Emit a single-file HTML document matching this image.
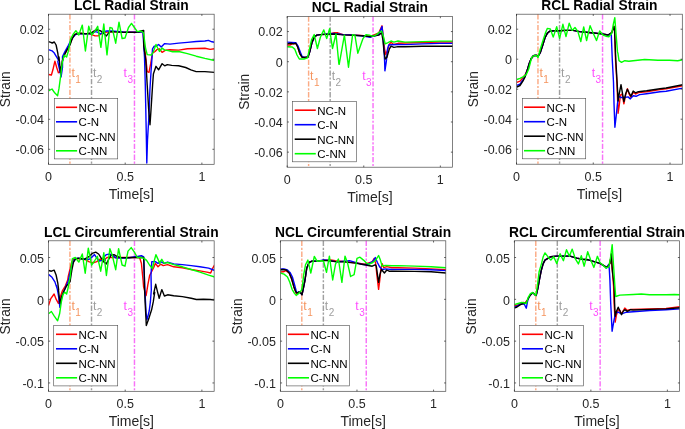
<!DOCTYPE html><html><head><meta charset="utf-8"><style>html,body{margin:0;padding:0;background:#fff;overflow:hidden}body{width:685px;height:429px;position:relative;font-family:"Liberation Sans",sans-serif}</style></head><body><svg width="685" height="429" viewBox="0 0 685 429" style="position:absolute;left:0;top:0;will-change:transform;font-family:'Liberation Sans',sans-serif">
<g id="ax0">
<clipPath id="cp0"><rect x="48.5" y="14.2" width="165.65" height="150.10000000000002"/></clipPath>
<line x1="69.94" y1="14.2" x2="69.94" y2="164.3" stroke="#fbab85" stroke-width="1.45" stroke-dasharray="5.3 1.7 2.1 1.7"/>
<line x1="91.52" y1="14.2" x2="91.52" y2="164.3" stroke="#a0a0a0" stroke-width="1.45" stroke-dasharray="5.3 1.7 2.1 1.7"/>
<line x1="134.47" y1="14.2" x2="134.47" y2="164.3" stroke="#f872f8" stroke-width="1.45" stroke-dasharray="5.3 1.7 2.1 1.7"/>
<g clip-path="url(#cp0)" fill="none" stroke-width="1.4" stroke-linejoin="round">
<polyline points="48.5,74.5 51.4,75.0 52.9,69.8 54.9,61.1 56.7,67.5 58.4,72.7 60.1,72.1 61.3,67.5 62.5,60.5 64.2,55.2 66.6,50.6 70.0,43.8 72.4,38.0 74.7,34.7 77.0,33.7 80.0,33.3 88.7,33.9 91.6,34.7 95.1,35.9 98.0,35.9 100.3,34.5 103.3,32.7 107.0,32.1 111.7,31.6 123.3,32.1 129.1,31.9 141.9,32.1 142.9,32.2 145.5,55.0 147.2,71.6 149.0,72.4 150.7,63.7 152.5,53.2 155.1,51.5 156.8,49.7 159.5,48.8 162.1,52.3 165.6,50.1 170.0,49.7 178.7,50.1 187.4,48.8 196.2,48.5 204.9,48.3 210.1,49.4 214.5,48.8" stroke="#ff0000"/>
<polyline points="48.5,49.6 52.0,50.8 54.3,53.1 56.7,57.2 58.4,60.0 57.8,61.7 59.6,69.8 61.1,76.8 62.5,67.5 62.5,56.6 64.8,51.9 67.7,46.7 70.0,42.0 73.0,37.4 75.3,34.7 77.6,33.9 84.6,33.7 91.6,33.9 95.1,31.6 97.4,32.1 100.3,33.9 103.3,32.7 103.5,31.6 107.0,31.0 111.7,31.0 123.3,31.9 135.0,32.1 143.1,32.1 142.9,32.0 144.5,57.0 145.3,85.0 145.8,110.0 146.3,135.0 146.8,163.0 147.5,140.0 149.0,115.0 149.9,90.0 151.0,72.0 152.0,58.0 152.5,48.8 154.2,46.2 156.0,46.2 158.6,44.5 161.2,47.1 164.7,43.6 170.0,44.1 178.7,43.1 187.4,42.4 196.2,41.5 204.9,41.0 208.4,40.4 211.9,41.8 214.5,42.2" stroke="#0000ff"/>
<polyline points="48.5,41.7 50.8,42.4 52.2,43.0 54.3,42.0 56.1,45.0 57.8,53.1 58.7,60.0 59.0,57.0 59.9,66.3 60.5,72.7 61.3,67.5 62.5,60.5 64.2,55.2 66.6,50.6 70.0,45.0 72.4,38.0 74.7,34.7 77.0,33.7 80.0,33.3 85.8,33.9 91.6,32.7 95.1,30.4 97.4,29.8 100.9,31.0 103.3,33.3 103.5,33.3 106.4,35.9 109.3,32.1 111.7,31.6 115.1,31.9 123.3,32.4 135.0,32.4 138.4,32.1 140.8,31.0 143.7,30.4 143.7,46.0 145.8,60.0 147.2,85.0 148.7,110.0 150.0,124.8 151.0,110.0 152.6,85.0 153.4,74.0 153.9,72.4 156.0,66.3 158.6,69.8 162.1,63.7 164.7,65.8 167.3,64.6 171.7,65.4 178.7,65.8 185.7,67.5 190.9,69.8 196.2,71.6 204.9,71.6 214.5,72.4" stroke="#000000"/>
<polyline points="48.5,91.0 52.0,89.0 54.9,93.1 57.6,95.7 59.0,88.4 60.7,75.6 62.2,62.8 64.2,55.2 66.6,57.0 68.3,51.2 69.5,45.0 70.6,39.1 73.0,34.5 75.9,30.7 78.8,35.0 82.3,25.1 85.4,51.0 88.7,26.3 91.6,35.0 94.5,31.6 97.7,26.3 100.9,47.3 103.8,24.0 107.0,54.9 109.9,27.5 112.2,28.1 115.7,43.2 119.0,22.2 122.1,38.5 125.0,38.0 128.5,27.5 131.5,23.4 134.4,27.5 137.3,31.6 140.8,31.0 143.3,32.7 143.7,34.0 145.5,48.0 147.2,54.6 151.6,55.0 153.4,51.5 156.0,44.5 157.7,48.0 159.5,51.5 162.1,48.0 164.7,50.1 168.2,50.6 172.6,51.8 178.7,51.5 187.4,53.6 196.2,56.2 204.9,58.4 214.5,60.5" stroke="#00ff00"/>
</g>
<rect x="48.5" y="14.2" width="165.65" height="150.10" fill="none" stroke="#4a4a4a" stroke-width="0.7"/>
<line x1="48.50" y1="164.3" x2="48.50" y2="162.60000000000002" stroke="#262626" stroke-width="0.72"/>
<line x1="48.50" y1="14.2" x2="48.50" y2="15.899999999999999" stroke="#262626" stroke-width="0.72"/>
<text x="48.50" y="181.20" font-size="12.5" fill="#262626" text-anchor="middle">0</text>
<line x1="125.19" y1="164.3" x2="125.19" y2="162.60000000000002" stroke="#262626" stroke-width="0.72"/>
<line x1="125.19" y1="14.2" x2="125.19" y2="15.899999999999999" stroke="#262626" stroke-width="0.72"/>
<text x="125.19" y="181.20" font-size="12.5" fill="#262626" text-anchor="middle">0.5</text>
<line x1="201.88" y1="164.3" x2="201.88" y2="162.60000000000002" stroke="#262626" stroke-width="0.72"/>
<line x1="201.88" y1="14.2" x2="201.88" y2="15.899999999999999" stroke="#262626" stroke-width="0.72"/>
<text x="201.88" y="181.20" font-size="12.5" fill="#262626" text-anchor="middle">1</text>
<line x1="48.5" y1="29.21" x2="50.2" y2="29.21" stroke="#262626" stroke-width="0.72"/>
<line x1="214.15" y1="29.21" x2="212.45000000000002" y2="29.21" stroke="#262626" stroke-width="0.72"/>
<text x="44.00" y="34.11" font-size="12.5" fill="#262626" text-anchor="end">0.02</text>
<line x1="48.5" y1="59.23" x2="50.2" y2="59.23" stroke="#262626" stroke-width="0.72"/>
<line x1="214.15" y1="59.23" x2="212.45000000000002" y2="59.23" stroke="#262626" stroke-width="0.72"/>
<text x="44.00" y="64.13" font-size="12.5" fill="#262626" text-anchor="end">0</text>
<line x1="48.5" y1="89.25" x2="50.2" y2="89.25" stroke="#262626" stroke-width="0.72"/>
<line x1="214.15" y1="89.25" x2="212.45000000000002" y2="89.25" stroke="#262626" stroke-width="0.72"/>
<text x="44.00" y="94.15" font-size="12.5" fill="#262626" text-anchor="end">-0.02</text>
<line x1="48.5" y1="119.27" x2="50.2" y2="119.27" stroke="#262626" stroke-width="0.72"/>
<line x1="214.15" y1="119.27" x2="212.45000000000002" y2="119.27" stroke="#262626" stroke-width="0.72"/>
<text x="44.00" y="124.17" font-size="12.5" fill="#262626" text-anchor="end">-0.04</text>
<line x1="48.5" y1="149.29" x2="50.2" y2="149.29" stroke="#262626" stroke-width="0.72"/>
<line x1="214.15" y1="149.29" x2="212.45000000000002" y2="149.29" stroke="#262626" stroke-width="0.72"/>
<text x="44.00" y="154.19" font-size="12.5" fill="#262626" text-anchor="end">-0.06</text>
<text x="131.32" y="198.90" font-size="14.0" fill="#262626" text-anchor="middle">Time[s]</text>
<text transform="translate(10.10,89.25) rotate(-90)" font-size="13.8" fill="#262626" text-anchor="middle">Strain</text>
<text x="131.32" y="10.10" font-size="13.8" font-weight="bold" fill="#000" text-anchor="middle">LCL Radial Strain</text>
<text x="71.44" y="77.03" font-size="12.3" fill="#f5955f">t<tspan font-size="10" dy="6.3" dx="0.4">1</tspan></text>
<text x="93.02" y="77.03" font-size="12.3" fill="#9e9e9e">t<tspan font-size="10" dy="6.3" dx="0.4">2</tspan></text>
<text x="132.97" y="77.03" font-size="12.3" fill="#ff4dff" text-anchor="end">t<tspan font-size="10" dy="6.3" dx="0.4">3</tspan></text>
<rect x="54.30" y="98.50" width="63.40" height="60.4" fill="#fff" stroke="#505050" stroke-width="0.62"/>
<line x1="56.00" y1="107.30" x2="77.10" y2="107.30" stroke="#ff0000" stroke-width="1.6"/>
<text x="78.60" y="111.70" font-size="11.5" fill="#000">NC-N</text>
<line x1="56.00" y1="121.80" x2="77.10" y2="121.80" stroke="#0000ff" stroke-width="1.6"/>
<text x="78.60" y="126.20" font-size="11.5" fill="#000">C-N</text>
<line x1="56.00" y1="136.30" x2="77.10" y2="136.30" stroke="#000000" stroke-width="1.6"/>
<text x="78.60" y="140.70" font-size="11.5" fill="#000">NC-NN</text>
<line x1="56.00" y1="150.80" x2="77.10" y2="150.80" stroke="#00ff00" stroke-width="1.6"/>
<text x="78.60" y="155.20" font-size="11.5" fill="#000">C-NN</text>
</g>
<g id="ax1">
<clipPath id="cp1"><rect x="287.2" y="16.5" width="165.40000000000003" height="150.7"/></clipPath>
<line x1="308.61" y1="16.5" x2="308.61" y2="167.2" stroke="#fbab85" stroke-width="1.45" stroke-dasharray="5.3 1.7 2.1 1.7"/>
<line x1="330.16" y1="16.5" x2="330.16" y2="167.2" stroke="#a0a0a0" stroke-width="1.45" stroke-dasharray="5.3 1.7 2.1 1.7"/>
<line x1="373.04" y1="16.5" x2="373.04" y2="167.2" stroke="#f872f8" stroke-width="1.45" stroke-dasharray="5.3 1.7 2.1 1.7"/>
<g clip-path="url(#cp1)" fill="none" stroke-width="1.4" stroke-linejoin="round">
<polyline points="287.0,45.0 290.0,45.0 292.3,43.9 295.8,43.3 297.6,46.8 299.9,53.8 302.2,57.3 305.1,57.5 308.0,57.0 309.8,51.5 312.1,42.1 314.5,36.9 316.8,35.1 320.3,34.6 329.6,34.0 334.3,32.8 337.8,32.8 343.0,34.6 349.7,34.9 361.3,35.4 370.6,36.5 378.8,32.8 382.0,25.8 383.4,37.5 384.6,49.1 385.8,54.4 387.5,50.3 389.3,44.5 391.0,42.1 392.8,43.9 395.1,44.2 398.0,43.3 405.0,43.0 422.4,42.5 439.9,42.0 453.0,42.0" stroke="#ff0000"/>
<polyline points="287.0,42.1 295.8,42.7 298.1,46.2 300.5,52.6 302.2,56.7 305.1,57.5 308.0,57.0 309.8,51.5 312.1,42.1 314.5,36.9 316.8,35.1 320.3,34.6 329.6,33.7 334.3,33.4 340.1,34.2 343.0,34.6 349.7,34.9 361.3,35.7 370.6,37.2 378.8,34.6 382.0,26.4 383.2,37.5 384.6,60.8 384.9,70.8 386.4,60.8 387.5,49.1 388.7,45.0 391.6,44.7 398.0,44.5 405.0,44.6 422.4,43.9 439.9,43.4 453.0,43.4" stroke="#0000ff"/>
<polyline points="287.0,43.9 291.2,43.3 293.5,43.9 295.8,43.3 297.6,46.8 299.9,53.8 302.2,57.3 305.1,57.5 308.0,57.0 309.8,51.5 312.1,42.1 314.5,36.9 316.8,35.1 320.3,34.6 329.6,34.2 335.4,34.0 340.1,34.6 343.0,34.9 349.7,35.1 361.3,35.7 370.6,36.5 378.8,35.1 381.7,32.8 382.9,39.8 384.0,51.5 385.2,59.0 386.9,57.3 389.3,49.1 391.0,46.2 393.9,47.4 398.0,46.6 405.0,46.8 422.4,46.3 439.9,46.3 453.0,46.3" stroke="#000000"/>
<polyline points="287.0,46.8 292.3,47.0 294.7,49.1 297.0,55.0 299.3,59.0 304.0,59.0 307.5,57.9 309.2,50.3 311.5,39.8 314.2,34.6 317.4,48.5 320.3,37.5 323.8,29.9 326.7,38.6 329.6,28.7 332.5,48.5 336.0,34.0 338.9,64.3 339.2,64.3 344.4,35.1 348.5,67.2 352.6,34.6 354.9,35.1 357.8,53.2 363.0,38.6 366.0,34.6 369.5,35.1 373.0,36.3 376.4,34.6 379.4,32.2 381.7,31.1 383.4,36.3 385.2,43.9 388.1,42.7 391.0,41.0 393.9,42.1 398.0,41.0 405.0,42.1 422.4,41.6 439.9,41.1 453.0,41.1" stroke="#00ff00"/>
</g>
<rect x="287.2" y="16.5" width="165.40" height="150.70" fill="none" stroke="#4a4a4a" stroke-width="0.7"/>
<line x1="287.20" y1="167.2" x2="287.20" y2="165.5" stroke="#262626" stroke-width="0.72"/>
<line x1="287.20" y1="16.5" x2="287.20" y2="18.2" stroke="#262626" stroke-width="0.72"/>
<text x="287.20" y="184.10" font-size="12.5" fill="#262626" text-anchor="middle">0</text>
<line x1="363.77" y1="167.2" x2="363.77" y2="165.5" stroke="#262626" stroke-width="0.72"/>
<line x1="363.77" y1="16.5" x2="363.77" y2="18.2" stroke="#262626" stroke-width="0.72"/>
<text x="363.77" y="184.10" font-size="12.5" fill="#262626" text-anchor="middle">0.5</text>
<line x1="440.35" y1="167.2" x2="440.35" y2="165.5" stroke="#262626" stroke-width="0.72"/>
<line x1="440.35" y1="16.5" x2="440.35" y2="18.2" stroke="#262626" stroke-width="0.72"/>
<text x="440.35" y="184.10" font-size="12.5" fill="#262626" text-anchor="middle">1</text>
<line x1="287.2" y1="31.57" x2="288.9" y2="31.57" stroke="#262626" stroke-width="0.72"/>
<line x1="452.6" y1="31.57" x2="450.90000000000003" y2="31.57" stroke="#262626" stroke-width="0.72"/>
<text x="282.70" y="36.47" font-size="12.5" fill="#262626" text-anchor="end">0.02</text>
<line x1="287.2" y1="61.71" x2="288.9" y2="61.71" stroke="#262626" stroke-width="0.72"/>
<line x1="452.6" y1="61.71" x2="450.90000000000003" y2="61.71" stroke="#262626" stroke-width="0.72"/>
<text x="282.70" y="66.61" font-size="12.5" fill="#262626" text-anchor="end">0</text>
<line x1="287.2" y1="91.85" x2="288.9" y2="91.85" stroke="#262626" stroke-width="0.72"/>
<line x1="452.6" y1="91.85" x2="450.90000000000003" y2="91.85" stroke="#262626" stroke-width="0.72"/>
<text x="282.70" y="96.75" font-size="12.5" fill="#262626" text-anchor="end">-0.02</text>
<line x1="287.2" y1="121.99" x2="288.9" y2="121.99" stroke="#262626" stroke-width="0.72"/>
<line x1="452.6" y1="121.99" x2="450.90000000000003" y2="121.99" stroke="#262626" stroke-width="0.72"/>
<text x="282.70" y="126.89" font-size="12.5" fill="#262626" text-anchor="end">-0.04</text>
<line x1="287.2" y1="152.13" x2="288.9" y2="152.13" stroke="#262626" stroke-width="0.72"/>
<line x1="452.6" y1="152.13" x2="450.90000000000003" y2="152.13" stroke="#262626" stroke-width="0.72"/>
<text x="282.70" y="157.03" font-size="12.5" fill="#262626" text-anchor="end">-0.06</text>
<text x="369.90" y="201.80" font-size="14.0" fill="#262626" text-anchor="middle">Time[s]</text>
<text transform="translate(248.80,91.85) rotate(-90)" font-size="13.8" fill="#262626" text-anchor="middle">Strain</text>
<text x="369.90" y="12.40" font-size="13.8" font-weight="bold" fill="#000" text-anchor="middle">NCL Radial Strain</text>
<text x="310.11" y="79.51" font-size="12.3" fill="#f5955f">t<tspan font-size="10" dy="6.3" dx="0.4">1</tspan></text>
<text x="331.66" y="79.51" font-size="12.3" fill="#9e9e9e">t<tspan font-size="10" dy="6.3" dx="0.4">2</tspan></text>
<text x="371.54" y="79.51" font-size="12.3" fill="#ff4dff" text-anchor="end">t<tspan font-size="10" dy="6.3" dx="0.4">3</tspan></text>
<rect x="292.40" y="101.40" width="64.00" height="60.4" fill="#fff" stroke="#505050" stroke-width="0.62"/>
<line x1="294.70" y1="110.20" x2="315.80" y2="110.20" stroke="#ff0000" stroke-width="1.6"/>
<text x="317.30" y="114.60" font-size="11.5" fill="#000">NC-N</text>
<line x1="294.70" y1="124.70" x2="315.80" y2="124.70" stroke="#0000ff" stroke-width="1.6"/>
<text x="317.30" y="129.10" font-size="11.5" fill="#000">C-N</text>
<line x1="294.70" y1="139.20" x2="315.80" y2="139.20" stroke="#000000" stroke-width="1.6"/>
<text x="317.30" y="143.60" font-size="11.5" fill="#000">NC-NN</text>
<line x1="294.70" y1="153.70" x2="315.80" y2="153.70" stroke="#00ff00" stroke-width="1.6"/>
<text x="317.30" y="158.10" font-size="11.5" fill="#000">C-NN</text>
</g>
<g id="ax2">
<clipPath id="cp2"><rect x="516.5" y="14.2" width="165.79999999999995" height="150.0"/></clipPath>
<line x1="537.96" y1="14.2" x2="537.96" y2="164.2" stroke="#fbab85" stroke-width="1.45" stroke-dasharray="5.3 1.7 2.1 1.7"/>
<line x1="559.56" y1="14.2" x2="559.56" y2="164.2" stroke="#a0a0a0" stroke-width="1.45" stroke-dasharray="5.3 1.7 2.1 1.7"/>
<line x1="602.55" y1="14.2" x2="602.55" y2="164.2" stroke="#f872f8" stroke-width="1.45" stroke-dasharray="5.3 1.7 2.1 1.7"/>
<g clip-path="url(#cp2)" fill="none" stroke-width="1.4" stroke-linejoin="round">
<polyline points="516.8,82.4 520.0,81.2 522.9,77.7 525.2,74.8 527.6,69.0 529.3,63.2 531.1,58.7 533.4,55.8 536.3,55.2 538.0,56.4 540.4,52.3 542.7,45.3 545.0,37.7 547.4,33.1 549.7,31.3 553.8,30.7 559.6,30.7 565.4,30.4 573.0,30.4 579.7,31.6 591.3,32.7 601.8,33.9 608.2,35.0 611.7,32.7 614.0,26.3 614.6,31.0 615.5,60.0 616.9,82.3 617.5,97.5 618.1,113.2 619.2,105.6 620.4,95.1 622.1,94.0 623.9,103.9 625.6,95.1 627.4,88.7 629.1,94.0 630.9,97.5 633.2,92.2 635.5,94.0 638.4,92.6 646.6,91.7 660.0,89.6 666.1,88.8 682.7,85.8" stroke="#ff0000"/>
<polyline points="516.8,85.3 520.0,84.1 522.9,80.0 525.2,76.0 527.6,69.0 529.3,63.2 531.1,58.7 533.4,55.8 536.3,55.2 538.0,56.4 540.4,52.3 542.7,45.3 545.0,37.7 547.4,33.1 549.7,31.3 553.8,30.7 559.6,30.7 565.4,30.4 573.0,30.4 579.7,31.6 591.3,32.7 601.8,33.9 608.2,35.0 609.9,33.9 611.3,35.0 612.3,60.0 613.5,82.3 614.0,103.3 614.9,127.2 616.3,115.0 617.5,103.3 618.6,96.3 621.0,97.5 624.5,97.5 628.0,96.9 630.3,98.9 633.2,95.7 636.1,96.3 639.6,94.6 646.6,93.7 660.0,91.7 666.1,91.3 682.7,88.1" stroke="#0000ff"/>
<polyline points="516.8,87.0 520.0,85.5 522.9,81.2 525.2,76.6 527.6,69.0 529.3,63.2 531.1,58.7 533.4,55.8 536.3,55.2 538.0,56.4 540.4,52.3 542.7,45.3 545.0,37.7 547.4,33.1 549.7,31.3 553.8,30.7 559.6,30.7 565.4,30.4 573.0,30.4 579.7,31.6 591.3,32.7 601.8,33.9 608.2,35.0 611.7,32.7 614.0,26.3 614.6,31.0 615.8,60.0 617.1,82.3 617.5,89.3 618.1,101.0 619.2,94.0 621.0,84.7 622.4,92.8 623.9,101.6 625.6,94.0 627.4,89.3 629.1,92.8 630.9,96.3 633.2,91.1 635.5,92.8 638.4,91.7 646.6,90.7 660.0,88.7 666.1,88.0 682.7,84.8" stroke="#000000"/>
<polyline points="516.8,79.5 520.0,78.3 523.5,76.6 526.4,74.2 528.7,69.0 530.5,62.0 531.6,57.5 534.6,55.2 536.9,55.8 538.0,57.5 540.4,48.8 543.3,39.5 545.6,32.5 547.4,28.4 550.3,29.0 553.2,37.1 556.7,26.7 559.6,38.3 562.9,24.3 566.0,36.6 569.2,23.2 572.1,30.4 575.0,27.5 577.9,31.6 580.8,41.5 583.7,26.9 586.6,40.5 590.1,25.7 593.0,32.7 596.5,40.5 599.7,31.0 603.0,35.0 605.9,36.2 608.8,36.8 611.7,33.3 613.4,24.0 614.8,17.6 616.0,33.3 617.5,51.9 617.9,53.2 619.0,60.7 621.5,62.3 624.8,60.7 628.9,61.2 633.1,60.7 644.7,59.5 657.9,60.2 669.5,60.2 677.7,60.7 682.7,59.8" stroke="#00ff00"/>
</g>
<rect x="516.5" y="14.2" width="165.80" height="150.00" fill="none" stroke="#4a4a4a" stroke-width="0.7"/>
<line x1="516.50" y1="164.2" x2="516.50" y2="162.5" stroke="#262626" stroke-width="0.72"/>
<line x1="516.50" y1="14.2" x2="516.50" y2="15.899999999999999" stroke="#262626" stroke-width="0.72"/>
<text x="516.50" y="181.10" font-size="12.5" fill="#262626" text-anchor="middle">0</text>
<line x1="593.26" y1="164.2" x2="593.26" y2="162.5" stroke="#262626" stroke-width="0.72"/>
<line x1="593.26" y1="14.2" x2="593.26" y2="15.899999999999999" stroke="#262626" stroke-width="0.72"/>
<text x="593.26" y="181.10" font-size="12.5" fill="#262626" text-anchor="middle">0.5</text>
<line x1="670.02" y1="164.2" x2="670.02" y2="162.5" stroke="#262626" stroke-width="0.72"/>
<line x1="670.02" y1="14.2" x2="670.02" y2="15.899999999999999" stroke="#262626" stroke-width="0.72"/>
<text x="670.02" y="181.10" font-size="12.5" fill="#262626" text-anchor="middle">1</text>
<line x1="516.5" y1="29.20" x2="518.2" y2="29.20" stroke="#262626" stroke-width="0.72"/>
<line x1="682.3" y1="29.20" x2="680.5999999999999" y2="29.20" stroke="#262626" stroke-width="0.72"/>
<text x="512.00" y="34.10" font-size="12.5" fill="#262626" text-anchor="end">0.02</text>
<line x1="516.5" y1="59.20" x2="518.2" y2="59.20" stroke="#262626" stroke-width="0.72"/>
<line x1="682.3" y1="59.20" x2="680.5999999999999" y2="59.20" stroke="#262626" stroke-width="0.72"/>
<text x="512.00" y="64.10" font-size="12.5" fill="#262626" text-anchor="end">0</text>
<line x1="516.5" y1="89.20" x2="518.2" y2="89.20" stroke="#262626" stroke-width="0.72"/>
<line x1="682.3" y1="89.20" x2="680.5999999999999" y2="89.20" stroke="#262626" stroke-width="0.72"/>
<text x="512.00" y="94.10" font-size="12.5" fill="#262626" text-anchor="end">-0.02</text>
<line x1="516.5" y1="119.20" x2="518.2" y2="119.20" stroke="#262626" stroke-width="0.72"/>
<line x1="682.3" y1="119.20" x2="680.5999999999999" y2="119.20" stroke="#262626" stroke-width="0.72"/>
<text x="512.00" y="124.10" font-size="12.5" fill="#262626" text-anchor="end">-0.04</text>
<line x1="516.5" y1="149.20" x2="518.2" y2="149.20" stroke="#262626" stroke-width="0.72"/>
<line x1="682.3" y1="149.20" x2="680.5999999999999" y2="149.20" stroke="#262626" stroke-width="0.72"/>
<text x="512.00" y="154.10" font-size="12.5" fill="#262626" text-anchor="end">-0.06</text>
<text x="599.40" y="198.80" font-size="14.0" fill="#262626" text-anchor="middle">Time[s]</text>
<text transform="translate(478.10,89.20) rotate(-90)" font-size="13.8" fill="#262626" text-anchor="middle">Strain</text>
<text x="599.40" y="10.10" font-size="13.8" font-weight="bold" fill="#000" text-anchor="middle">RCL Radial Strain</text>
<text x="539.46" y="77.00" font-size="12.3" fill="#f5955f">t<tspan font-size="10" dy="6.3" dx="0.4">1</tspan></text>
<text x="561.06" y="77.00" font-size="12.3" fill="#9e9e9e">t<tspan font-size="10" dy="6.3" dx="0.4">2</tspan></text>
<text x="601.05" y="77.00" font-size="12.3" fill="#ff4dff" text-anchor="end">t<tspan font-size="10" dy="6.3" dx="0.4">3</tspan></text>
<rect x="522.50" y="98.40" width="63.20" height="60.4" fill="#fff" stroke="#505050" stroke-width="0.62"/>
<line x1="524.00" y1="107.20" x2="545.10" y2="107.20" stroke="#ff0000" stroke-width="1.6"/>
<text x="546.60" y="111.60" font-size="11.5" fill="#000">NC-N</text>
<line x1="524.00" y1="121.70" x2="545.10" y2="121.70" stroke="#0000ff" stroke-width="1.6"/>
<text x="546.60" y="126.10" font-size="11.5" fill="#000">C-N</text>
<line x1="524.00" y1="136.20" x2="545.10" y2="136.20" stroke="#000000" stroke-width="1.6"/>
<text x="546.60" y="140.60" font-size="11.5" fill="#000">NC-NN</text>
<line x1="524.00" y1="150.70" x2="545.10" y2="150.70" stroke="#00ff00" stroke-width="1.6"/>
<text x="546.60" y="155.10" font-size="11.5" fill="#000">C-NN</text>
</g>
<g id="ax3">
<clipPath id="cp3"><rect x="48.5" y="240.8" width="165.65" height="150.5"/></clipPath>
<line x1="69.94" y1="240.8" x2="69.94" y2="391.3" stroke="#fbab85" stroke-width="1.45" stroke-dasharray="5.3 1.7 2.1 1.7"/>
<line x1="91.52" y1="240.8" x2="91.52" y2="391.3" stroke="#a0a0a0" stroke-width="1.45" stroke-dasharray="5.3 1.7 2.1 1.7"/>
<line x1="134.47" y1="240.8" x2="134.47" y2="391.3" stroke="#f872f8" stroke-width="1.45" stroke-dasharray="5.3 1.7 2.1 1.7"/>
<g clip-path="url(#cp3)" fill="none" stroke-width="1.4" stroke-linejoin="round">
<polyline points="48.5,305.6 50.8,298.6 54.1,294.0 56.1,299.2 58.4,303.3 60.1,297.5 62.5,290.5 65.4,285.8 67.7,280.0 68.3,276.1 70.0,269.1 71.8,262.1 73.5,259.2 78.8,258.6 85.8,259.8 89.3,261.9 93.9,262.7 96.8,261.6 99.8,259.2 105.0,259.2 107.0,257.5 120.4,257.5 139.6,257.5 141.4,263.3 143.1,280.8 143.6,286.9 146.1,295.7 147.8,285.2 149.6,275.6 151.8,271.2 153.6,267.7 155.3,263.4 158.0,266.8 160.6,264.2 163.2,265.6 167.6,264.6 173.7,266.8 182.4,267.7 191.2,269.5 199.9,270.9 206.9,272.1 210.7,273.0 212.5,268.6 214.8,264.6" stroke="#ff0000"/>
<polyline points="48.5,274.4 52.0,277.3 54.9,281.9 57.2,288.9 56.7,285.8 58.4,295.1 59.9,307.4 61.3,298.6 64.2,290.5 67.1,283.5 68.3,280.8 70.0,272.6 72.4,263.3 74.7,259.2 77.6,258.1 84.6,259.2 89.3,259.2 91.6,257.5 94.5,254.6 96.8,258.1 99.2,261.0 102.1,260.4 105.0,259.2 103.5,257.5 106.4,254.6 109.9,254.0 112.8,255.7 116.3,258.1 121.0,258.1 129.1,257.7 138.4,256.3 141.4,255.7 143.7,256.9 144.3,275.0 144.9,290.0 145.5,301.7 146.1,313.3 146.9,319.7 147.5,318.0 149.2,311.0 150.4,301.7 151.3,290.0 151.0,274.7 151.8,261.6 155.3,261.6 158.0,263.4 160.6,261.6 164.1,263.4 167.6,262.1 173.7,263.9 182.4,264.6 191.2,265.6 199.9,266.8 208.6,268.1 214.8,270.5" stroke="#0000ff"/>
<polyline points="48.5,270.5 51.4,271.2 54.1,270.1 56.1,275.0 57.8,283.1 58.7,290.0 58.4,289.3 59.6,299.8 60.1,303.3 61.3,297.5 63.6,291.7 66.6,285.8 68.9,283.5 70.0,280.0 70.0,281.9 71.8,270.3 73.5,262.1 75.9,258.6 78.8,258.1 84.6,259.2 89.3,256.3 92.2,253.4 95.7,252.2 98.6,254.0 101.5,258.6 105.0,260.4 103.5,261.6 106.4,263.9 108.7,259.2 111.1,255.1 114.0,254.6 116.9,256.3 120.4,257.5 125.6,257.7 135.0,257.5 140.8,257.5 143.7,257.5 144.3,275.0 144.6,290.0 145.1,301.7 145.7,313.3 146.3,325.5 149.2,317.4 151.6,309.8 153.3,301.7 154.7,292.3 153.6,293.9 155.7,284.3 157.4,291.3 159.2,298.3 161.8,289.6 164.4,296.0 167.6,294.8 173.7,295.7 182.4,296.6 191.2,298.3 196.4,299.5 203.4,299.2 210.4,299.5 214.8,300.1" stroke="#000000"/>
<polyline points="48.5,313.8 51.4,311.5 54.3,316.1 57.6,320.8 59.6,313.8 61.3,302.1 63.1,294.0 64.8,292.2 66.6,294.0 68.3,287.0 69.2,281.2 70.0,278.4 71.2,266.8 72.4,258.6 75.3,257.5 78.8,262.1 82.3,254.0 85.2,273.2 88.3,248.2 91.6,265.0 94.5,261.0 97.4,256.3 100.7,271.2 103.8,252.8 106.4,275.5 109.9,248.7 112.2,255.1 115.7,269.7 118.6,248.7 122.1,265.0 125.0,266.2 128.0,251.1 131.2,247.6 134.4,252.2 137.3,257.5 140.8,257.5 143.7,258.1 146.6,260.4 149.5,265.0 152.4,268.5 154.2,261.0 155.9,254.6 157.7,258.6 160.0,263.9 159.7,262.5 161.8,259.3 164.1,263.4 167.6,262.5 173.7,264.6 182.4,266.8 191.2,269.5 199.9,272.1 208.6,275.1 214.8,277.0" stroke="#00ff00"/>
</g>
<rect x="48.5" y="240.8" width="165.65" height="150.50" fill="none" stroke="#4a4a4a" stroke-width="0.7"/>
<line x1="48.50" y1="391.3" x2="48.50" y2="389.6" stroke="#262626" stroke-width="0.72"/>
<line x1="48.50" y1="240.8" x2="48.50" y2="242.5" stroke="#262626" stroke-width="0.72"/>
<text x="48.50" y="408.20" font-size="12.5" fill="#262626" text-anchor="middle">0</text>
<line x1="125.19" y1="391.3" x2="125.19" y2="389.6" stroke="#262626" stroke-width="0.72"/>
<line x1="125.19" y1="240.8" x2="125.19" y2="242.5" stroke="#262626" stroke-width="0.72"/>
<text x="125.19" y="408.20" font-size="12.5" fill="#262626" text-anchor="middle">0.5</text>
<line x1="201.88" y1="391.3" x2="201.88" y2="389.6" stroke="#262626" stroke-width="0.72"/>
<line x1="201.88" y1="240.8" x2="201.88" y2="242.5" stroke="#262626" stroke-width="0.72"/>
<text x="201.88" y="408.20" font-size="12.5" fill="#262626" text-anchor="middle">1</text>
<line x1="48.5" y1="257.52" x2="50.2" y2="257.52" stroke="#262626" stroke-width="0.72"/>
<line x1="214.15" y1="257.52" x2="212.45000000000002" y2="257.52" stroke="#262626" stroke-width="0.72"/>
<text x="44.00" y="262.82" font-size="12.5" fill="#262626" text-anchor="end">0.05</text>
<line x1="48.5" y1="299.33" x2="50.2" y2="299.33" stroke="#262626" stroke-width="0.72"/>
<line x1="214.15" y1="299.33" x2="212.45000000000002" y2="299.33" stroke="#262626" stroke-width="0.72"/>
<text x="44.00" y="304.63" font-size="12.5" fill="#262626" text-anchor="end">0</text>
<line x1="48.5" y1="341.13" x2="50.2" y2="341.13" stroke="#262626" stroke-width="0.72"/>
<line x1="214.15" y1="341.13" x2="212.45000000000002" y2="341.13" stroke="#262626" stroke-width="0.72"/>
<text x="44.00" y="346.43" font-size="12.5" fill="#262626" text-anchor="end">-0.05</text>
<line x1="48.5" y1="382.94" x2="50.2" y2="382.94" stroke="#262626" stroke-width="0.72"/>
<line x1="214.15" y1="382.94" x2="212.45000000000002" y2="382.94" stroke="#262626" stroke-width="0.72"/>
<text x="44.00" y="388.24" font-size="12.5" fill="#262626" text-anchor="end">-0.1</text>
<text x="131.32" y="425.90" font-size="14.0" fill="#262626" text-anchor="middle">Time[s]</text>
<text transform="translate(10.10,316.45) rotate(-90)" font-size="13.8" fill="#262626" text-anchor="middle">Strain</text>
<text x="131.32" y="236.70" font-size="13.8" font-weight="bold" fill="#000" text-anchor="middle">LCL Circumferential Strain</text>
<text x="71.44" y="309.63" font-size="12.3" fill="#f5955f">t<tspan font-size="10" dy="6.3" dx="0.4">1</tspan></text>
<text x="93.02" y="309.63" font-size="12.3" fill="#9e9e9e">t<tspan font-size="10" dy="6.3" dx="0.4">2</tspan></text>
<text x="132.97" y="309.63" font-size="12.3" fill="#ff4dff" text-anchor="end">t<tspan font-size="10" dy="6.3" dx="0.4">3</tspan></text>
<rect x="53.70" y="325.50" width="64.00" height="60.4" fill="#fff" stroke="#505050" stroke-width="0.62"/>
<line x1="56.00" y1="334.30" x2="77.10" y2="334.30" stroke="#ff0000" stroke-width="1.6"/>
<text x="78.60" y="338.70" font-size="11.5" fill="#000">NC-N</text>
<line x1="56.00" y1="348.80" x2="77.10" y2="348.80" stroke="#0000ff" stroke-width="1.6"/>
<text x="78.60" y="353.20" font-size="11.5" fill="#000">C-N</text>
<line x1="56.00" y1="363.30" x2="77.10" y2="363.30" stroke="#000000" stroke-width="1.6"/>
<text x="78.60" y="367.70" font-size="11.5" fill="#000">NC-NN</text>
<line x1="56.00" y1="377.80" x2="77.10" y2="377.80" stroke="#00ff00" stroke-width="1.6"/>
<text x="78.60" y="382.20" font-size="11.5" fill="#000">C-NN</text>
</g>
<g id="ax4">
<clipPath id="cp4"><rect x="280.4" y="240.8" width="165.40000000000003" height="150.5"/></clipPath>
<line x1="301.81" y1="240.8" x2="301.81" y2="391.3" stroke="#fbab85" stroke-width="1.45" stroke-dasharray="5.3 1.7 2.1 1.7"/>
<line x1="323.36" y1="240.8" x2="323.36" y2="391.3" stroke="#a0a0a0" stroke-width="1.45" stroke-dasharray="5.3 1.7 2.1 1.7"/>
<line x1="366.24" y1="240.8" x2="366.24" y2="391.3" stroke="#f872f8" stroke-width="1.45" stroke-dasharray="5.3 1.7 2.1 1.7"/>
<g clip-path="url(#cp4)" fill="none" stroke-width="1.4" stroke-linejoin="round">
<polyline points="280.3,272.0 283.4,271.8 285.7,270.6 289.2,273.0 291.6,278.8 293.9,286.9 295.6,291.6 296.2,293.6 299.1,292.2 300.9,293.1 302.0,294.6 303.2,289.0 305.0,280.0 306.7,268.3 309.0,262.5 312.0,261.1 317.8,261.1 323.6,260.4 330.6,259.9 335.3,260.7 343.7,261.5 355.3,262.7 364.6,264.2 372.2,261.9 374.2,258.4 375.7,263.6 376.9,275.3 378.6,289.3 379.8,280.0 380.9,268.3 382.1,263.6 383.8,267.7 386.8,266.6 392.0,267.7 398.1,267.8 414.6,268.1 431.1,268.9 446.4,269.8" stroke="#ff0000"/>
<polyline points="280.3,268.9 284.0,268.9 287.5,270.0 290.0,272.4 292.4,277.0 294.7,285.2 296.2,291.0 297.4,293.1 299.1,291.9 300.9,293.1 302.0,294.6 303.2,289.0 305.0,280.0 306.7,268.3 309.0,262.5 312.0,261.1 317.8,261.1 323.6,259.9 327.1,260.1 337.0,261.9 343.7,261.3 349.5,260.7 361.1,264.2 367.0,264.8 372.8,261.3 375.3,257.6 377.4,262.5 379.8,267.1 382.1,269.5 385.6,268.9 392.0,269.5 398.1,269.4 414.6,269.4 431.1,269.8 446.4,270.6" stroke="#0000ff"/>
<polyline points="280.3,270.0 282.8,269.5 286.3,270.0 289.2,273.0 291.6,278.8 293.9,286.9 295.6,291.6 297.4,293.1 299.1,291.9 300.9,293.1 302.0,294.8 303.2,289.0 305.0,280.0 306.7,268.3 309.0,262.5 312.0,261.1 317.8,261.1 323.6,260.4 329.4,260.7 337.0,261.9 343.7,261.9 355.3,263.1 364.6,264.8 372.2,266.2 375.1,264.8 376.3,266.0 377.4,274.1 378.6,282.3 380.0,274.1 381.5,269.5 384.4,273.0 386.8,270.0 389.1,271.2 392.0,271.2 398.1,271.1 414.6,271.4 431.1,271.8 446.4,273.1" stroke="#000000"/>
<polyline points="280.3,273.0 284.0,274.1 287.5,277.0 289.8,282.3 292.1,289.3 294.5,293.4 296.2,295.4 299.1,293.1 301.5,290.1 302.4,285.8 303.8,274.1 305.5,264.8 307.9,260.1 310.8,273.0 314.3,256.4 317.2,261.3 320.7,260.7 323.6,261.3 326.5,272.4 329.4,256.1 332.7,280.0 335.5,264.2 338.4,259.0 341.9,282.3 345.0,256.1 347.7,263.6 350.6,276.5 354.1,274.7 357.0,258.4 360.0,257.2 363.5,260.1 366.4,263.1 369.3,264.2 372.8,262.5 375.7,260.1 378.6,255.5 380.4,260.1 382.1,266.0 385.6,265.4 392.0,265.7 398.1,265.6 414.6,266.1 431.1,266.8 446.4,267.8" stroke="#00ff00"/>
</g>
<rect x="280.4" y="240.8" width="165.40" height="150.50" fill="none" stroke="#4a4a4a" stroke-width="0.7"/>
<line x1="280.40" y1="391.3" x2="280.40" y2="389.6" stroke="#262626" stroke-width="0.72"/>
<line x1="280.40" y1="240.8" x2="280.40" y2="242.5" stroke="#262626" stroke-width="0.72"/>
<text x="280.40" y="408.20" font-size="12.5" fill="#262626" text-anchor="middle">0</text>
<line x1="356.97" y1="391.3" x2="356.97" y2="389.6" stroke="#262626" stroke-width="0.72"/>
<line x1="356.97" y1="240.8" x2="356.97" y2="242.5" stroke="#262626" stroke-width="0.72"/>
<text x="356.97" y="408.20" font-size="12.5" fill="#262626" text-anchor="middle">0.5</text>
<line x1="433.55" y1="391.3" x2="433.55" y2="389.6" stroke="#262626" stroke-width="0.72"/>
<line x1="433.55" y1="240.8" x2="433.55" y2="242.5" stroke="#262626" stroke-width="0.72"/>
<text x="433.55" y="408.20" font-size="12.5" fill="#262626" text-anchor="middle">1</text>
<line x1="280.4" y1="257.52" x2="282.09999999999997" y2="257.52" stroke="#262626" stroke-width="0.72"/>
<line x1="445.8" y1="257.52" x2="444.1" y2="257.52" stroke="#262626" stroke-width="0.72"/>
<text x="275.90" y="262.82" font-size="12.5" fill="#262626" text-anchor="end">0.05</text>
<line x1="280.4" y1="299.33" x2="282.09999999999997" y2="299.33" stroke="#262626" stroke-width="0.72"/>
<line x1="445.8" y1="299.33" x2="444.1" y2="299.33" stroke="#262626" stroke-width="0.72"/>
<text x="275.90" y="304.63" font-size="12.5" fill="#262626" text-anchor="end">0</text>
<line x1="280.4" y1="341.13" x2="282.09999999999997" y2="341.13" stroke="#262626" stroke-width="0.72"/>
<line x1="445.8" y1="341.13" x2="444.1" y2="341.13" stroke="#262626" stroke-width="0.72"/>
<text x="275.90" y="346.43" font-size="12.5" fill="#262626" text-anchor="end">-0.05</text>
<line x1="280.4" y1="382.94" x2="282.09999999999997" y2="382.94" stroke="#262626" stroke-width="0.72"/>
<line x1="445.8" y1="382.94" x2="444.1" y2="382.94" stroke="#262626" stroke-width="0.72"/>
<text x="275.90" y="388.24" font-size="12.5" fill="#262626" text-anchor="end">-0.1</text>
<text x="363.10" y="425.90" font-size="14.0" fill="#262626" text-anchor="middle">Time[s]</text>
<text transform="translate(242.00,316.45) rotate(-90)" font-size="13.8" fill="#262626" text-anchor="middle">Strain</text>
<text x="363.10" y="236.70" font-size="13.8" font-weight="bold" fill="#000" text-anchor="middle">NCL Circumferential Strain</text>
<text x="303.31" y="309.63" font-size="12.3" fill="#f5955f">t<tspan font-size="10" dy="6.3" dx="0.4">1</tspan></text>
<text x="324.86" y="309.63" font-size="12.3" fill="#9e9e9e">t<tspan font-size="10" dy="6.3" dx="0.4">2</tspan></text>
<text x="364.74" y="309.63" font-size="12.3" fill="#ff4dff" text-anchor="end">t<tspan font-size="10" dy="6.3" dx="0.4">3</tspan></text>
<rect x="286.30" y="325.50" width="63.30" height="60.4" fill="#fff" stroke="#505050" stroke-width="0.62"/>
<line x1="287.90" y1="334.30" x2="309.00" y2="334.30" stroke="#ff0000" stroke-width="1.6"/>
<text x="310.50" y="338.70" font-size="11.5" fill="#000">NC-N</text>
<line x1="287.90" y1="348.80" x2="309.00" y2="348.80" stroke="#0000ff" stroke-width="1.6"/>
<text x="310.50" y="353.20" font-size="11.5" fill="#000">C-N</text>
<line x1="287.90" y1="363.30" x2="309.00" y2="363.30" stroke="#000000" stroke-width="1.6"/>
<text x="310.50" y="367.70" font-size="11.5" fill="#000">NC-NN</text>
<line x1="287.90" y1="377.80" x2="309.00" y2="377.80" stroke="#00ff00" stroke-width="1.6"/>
<text x="310.50" y="382.20" font-size="11.5" fill="#000">C-NN</text>
</g>
<g id="ax5">
<clipPath id="cp5"><rect x="514.4" y="240.8" width="165.20000000000005" height="150.5"/></clipPath>
<line x1="535.78" y1="240.8" x2="535.78" y2="391.3" stroke="#fbab85" stroke-width="1.45" stroke-dasharray="5.3 1.7 2.1 1.7"/>
<line x1="557.31" y1="240.8" x2="557.31" y2="391.3" stroke="#a0a0a0" stroke-width="1.45" stroke-dasharray="5.3 1.7 2.1 1.7"/>
<line x1="600.14" y1="240.8" x2="600.14" y2="391.3" stroke="#f872f8" stroke-width="1.45" stroke-dasharray="5.3 1.7 2.1 1.7"/>
<g clip-path="url(#cp5)" fill="none" stroke-width="1.4" stroke-linejoin="round">
<polyline points="514.2,305.9 517.0,305.3 520.5,303.5 523.4,302.4 525.1,303.0 527.5,300.0 529.2,296.6 531.6,293.6 533.3,293.1 535.0,294.8 536.2,295.4 537.8,288.7 539.5,279.1 541.2,270.6 543.2,263.6 545.0,260.1 547.9,258.4 550.8,256.7 556.6,256.1 562.4,256.1 570.0,256.1 570.8,256.3 576.7,258.1 582.5,259.2 588.3,259.8 594.1,261.6 600.0,263.3 604.6,266.2 607.5,267.4 609.9,263.3 611.4,254.0 611.8,263.3 613.6,286.5 614.1,303.1 615.2,322.1 616.5,314.7 618.2,309.7 619.8,310.5 621.5,313.8 624.8,308.0 627.3,310.5 630.6,309.4 649.6,308.9 666.1,308.4 680.2,306.7" stroke="#ff0000"/>
<polyline points="514.2,307.4 517.0,306.2 520.5,304.1 522.8,303.5 524.6,304.7 526.3,308.2 527.7,300.6 529.2,296.6 531.6,293.6 533.3,293.1 535.0,294.8 536.2,295.4 537.8,288.7 539.5,279.1 541.2,270.6 543.2,263.6 545.0,260.1 547.9,258.4 550.8,256.7 556.6,256.1 562.4,256.1 570.0,256.1 570.8,256.3 576.7,258.1 582.5,259.2 588.3,259.8 594.1,261.6 600.0,263.3 604.6,266.2 606.4,268.0 608.7,264.5 609.3,269.1 609.9,279.9 610.7,303.1 612.1,331.2 614.1,319.6 615.7,313.0 618.2,312.2 621.5,313.8 626.5,312.2 633.1,311.7 649.6,310.5 666.1,309.7 680.2,308.9" stroke="#0000ff"/>
<polyline points="514.2,308.2 517.0,307.0 520.5,304.7 523.4,303.5 525.7,303.0 527.5,300.0 529.2,296.6 531.6,293.6 533.3,293.1 535.0,294.8 536.2,295.4 537.8,288.7 539.5,279.1 541.2,270.6 543.2,263.6 545.0,260.1 547.9,258.4 550.8,256.7 556.6,256.1 562.4,256.1 570.0,256.1 570.8,256.3 576.7,258.1 582.5,259.2 588.3,259.8 594.1,261.6 600.0,263.3 604.6,266.2 607.5,267.4 609.9,263.3 611.4,254.0 612.2,269.1 614.2,286.5 614.6,303.1 615.2,316.3 616.5,311.3 618.2,307.2 619.8,310.5 621.5,314.7 623.2,311.3 624.8,309.7 627.3,311.3 630.6,309.7 633.1,310.0 649.6,309.4 666.1,308.9 680.2,307.7" stroke="#000000"/>
<polyline points="514.2,304.7 518.2,303.5 521.7,302.4 524.6,303.0 526.3,303.5 528.1,297.7 530.4,293.6 532.7,292.5 534.5,294.2 535.9,295.4 537.4,285.5 539.1,271.8 541.5,263.6 543.2,256.7 545.0,252.9 547.9,256.7 550.8,260.1 553.7,256.7 556.8,263.6 560.1,253.7 563.4,260.7 566.5,249.7 569.4,256.3 572.2,249.1 575.5,259.2 578.4,263.9 581.3,255.7 584.2,266.2 587.7,251.7 590.6,259.8 593.9,267.4 597.4,256.3 600.0,262.7 602.9,265.0 605.8,268.0 608.7,266.8 610.4,258.6 612.2,244.7 613.4,263.3 614.9,286.5 615.7,296.5 619.8,295.1 633.1,294.5 641.3,294.0 649.6,294.8 666.1,294.8 674.4,294.5 680.2,294.8" stroke="#00ff00"/>
</g>
<rect x="514.4" y="240.8" width="165.20" height="150.50" fill="none" stroke="#4a4a4a" stroke-width="0.7"/>
<line x1="514.40" y1="391.3" x2="514.40" y2="389.6" stroke="#262626" stroke-width="0.72"/>
<line x1="514.40" y1="240.8" x2="514.40" y2="242.5" stroke="#262626" stroke-width="0.72"/>
<text x="514.40" y="408.20" font-size="12.5" fill="#262626" text-anchor="middle">0</text>
<line x1="590.88" y1="391.3" x2="590.88" y2="389.6" stroke="#262626" stroke-width="0.72"/>
<line x1="590.88" y1="240.8" x2="590.88" y2="242.5" stroke="#262626" stroke-width="0.72"/>
<text x="590.88" y="408.20" font-size="12.5" fill="#262626" text-anchor="middle">0.5</text>
<line x1="667.36" y1="391.3" x2="667.36" y2="389.6" stroke="#262626" stroke-width="0.72"/>
<line x1="667.36" y1="240.8" x2="667.36" y2="242.5" stroke="#262626" stroke-width="0.72"/>
<text x="667.36" y="408.20" font-size="12.5" fill="#262626" text-anchor="middle">1</text>
<line x1="514.4" y1="257.52" x2="516.1" y2="257.52" stroke="#262626" stroke-width="0.72"/>
<line x1="679.6" y1="257.52" x2="677.9" y2="257.52" stroke="#262626" stroke-width="0.72"/>
<text x="509.90" y="262.82" font-size="12.5" fill="#262626" text-anchor="end">0.05</text>
<line x1="514.4" y1="299.33" x2="516.1" y2="299.33" stroke="#262626" stroke-width="0.72"/>
<line x1="679.6" y1="299.33" x2="677.9" y2="299.33" stroke="#262626" stroke-width="0.72"/>
<text x="509.90" y="304.63" font-size="12.5" fill="#262626" text-anchor="end">0</text>
<line x1="514.4" y1="341.13" x2="516.1" y2="341.13" stroke="#262626" stroke-width="0.72"/>
<line x1="679.6" y1="341.13" x2="677.9" y2="341.13" stroke="#262626" stroke-width="0.72"/>
<text x="509.90" y="346.43" font-size="12.5" fill="#262626" text-anchor="end">-0.05</text>
<line x1="514.4" y1="382.94" x2="516.1" y2="382.94" stroke="#262626" stroke-width="0.72"/>
<line x1="679.6" y1="382.94" x2="677.9" y2="382.94" stroke="#262626" stroke-width="0.72"/>
<text x="509.90" y="388.24" font-size="12.5" fill="#262626" text-anchor="end">-0.1</text>
<text x="597.00" y="425.90" font-size="14.0" fill="#262626" text-anchor="middle">Time[s]</text>
<text transform="translate(476.00,316.45) rotate(-90)" font-size="13.8" fill="#262626" text-anchor="middle">Strain</text>
<text x="597.00" y="236.70" font-size="13.8" font-weight="bold" fill="#000" text-anchor="middle">RCL Circumferential Strain</text>
<text x="537.28" y="309.63" font-size="12.3" fill="#f5955f">t<tspan font-size="10" dy="6.3" dx="0.4">1</tspan></text>
<text x="558.81" y="309.63" font-size="12.3" fill="#9e9e9e">t<tspan font-size="10" dy="6.3" dx="0.4">2</tspan></text>
<text x="598.64" y="309.63" font-size="12.3" fill="#ff4dff" text-anchor="end">t<tspan font-size="10" dy="6.3" dx="0.4">3</tspan></text>
<rect x="519.50" y="325.50" width="64.10" height="60.4" fill="#fff" stroke="#505050" stroke-width="0.62"/>
<line x1="521.90" y1="334.30" x2="543.00" y2="334.30" stroke="#ff0000" stroke-width="1.6"/>
<text x="544.50" y="338.70" font-size="11.5" fill="#000">NC-N</text>
<line x1="521.90" y1="348.80" x2="543.00" y2="348.80" stroke="#0000ff" stroke-width="1.6"/>
<text x="544.50" y="353.20" font-size="11.5" fill="#000">C-N</text>
<line x1="521.90" y1="363.30" x2="543.00" y2="363.30" stroke="#000000" stroke-width="1.6"/>
<text x="544.50" y="367.70" font-size="11.5" fill="#000">NC-NN</text>
<line x1="521.90" y1="377.80" x2="543.00" y2="377.80" stroke="#00ff00" stroke-width="1.6"/>
<text x="544.50" y="382.20" font-size="11.5" fill="#000">C-NN</text>
</g>
</svg></body></html>
